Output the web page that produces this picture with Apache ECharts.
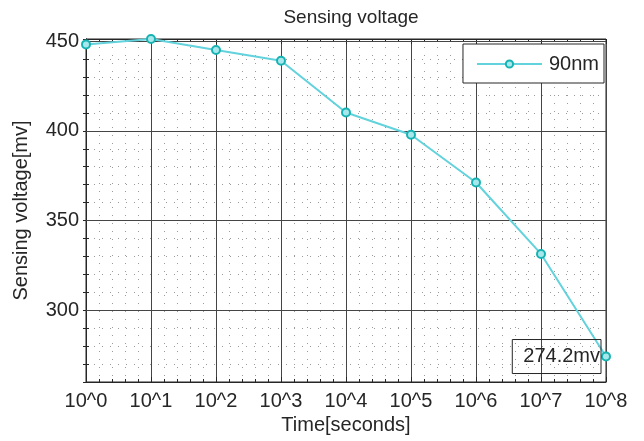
<!DOCTYPE html>
<html>
<head>
<meta charset="utf-8">
<script src="https://cdn.jsdelivr.net/npm/echarts@6/dist/echarts.min.js"></script>
<style>
  html, body { margin: 0; padding: 0; background: #fff; }
  #chart { width: 644px; height: 441px; }
</style>
</head>
<body>
<div id="chart"></div>
<script>
// exponent of the time (10^n seconds)
const exponents = [0, 1, 2, 3, 4, 5, 6, 7, 8];
const xTickLabels = ["10^0", "10^1", "10^2", "10^3", "10^4", "10^5", "10^6", "10^7", "10^8"];
// sensing voltage [mv]
const voltage90nm = [448.2, 451.2, 445.1, 439.1, 410.2, 397.8, 371.2, 331.4, 274.2];
const yMajorTicks = [300, 350, 400, 450];
const seriesName = "90nm";
const lastLabel = "274.2mv";

const textColor = "#262626";
const font = "Liberation Sans, Arial, sans-serif";

const points = exponents.map((e, i) => [e, voltage90nm[i]]);
const last = points.length - 1;
const seriesData = points.map((p, i) => {
  if (i !== last) return p;
  return {
    value: p,
    label: {
      show: true,
      position: "left",
      distance: 0,
      formatter: lastLabel,
      color: textColor,
      fontFamily: font,
      fontSize: 20,
      borderColor: textColor,
      borderWidth: 1,
      padding: [7, 1, 7, 11]
    }
  };
});

const chart = echarts.init(document.getElementById("chart"), null, { renderer: "canvas" });
chart.setOption({
  animation: false,
  title: {
    text: "Sensing voltage",
    left: 346,
    textAlign: "center",
    top: 3,
    textStyle: { color: textColor, fontFamily: font, fontSize: 19, fontWeight: "normal" }
  },
  legend: {
    data: [seriesName],
    right: 40,
    top: 44,
    orient: "vertical",
    backgroundColor: "#fff",
    borderColor: textColor,
    borderWidth: 1,
    borderRadius: 0,
    padding: [10, 5, 9, 13],
    itemWidth: 65,
    itemHeight: 9,
    itemGap: 0,
    textStyle: { color: textColor, fontFamily: font, fontSize: 20, padding: [0, 0, 0, 2] }
  },
  grid: {
    left: 86,
    right: 38,
    top: 39,
    bottom: 59,
    show: true,
    borderColor: textColor,
    borderWidth: 1,
    backgroundColor: "#fff"
  },
  xAxis: [{
    type: "value",
    min: 0,
    max: 8,
    interval: 1,
    name: "Time[seconds]",
    nameLocation: "middle",
    nameGap: 33,
    nameTextStyle: { color: textColor, fontFamily: font, fontSize: 20 },
    axisLine: { show: true, lineStyle: { color: textColor } },
    axisTick: { show: true, inside: true, length: 5, lineStyle: { color: textColor } },
    minorTick: { show: true, splitNumber: 5, length: 3, lineStyle: { color: textColor } },
    axisLabel: {
      color: textColor, fontFamily: font, fontSize: 20, margin: 9,
      formatter: v => xTickLabels[exponents.indexOf(v)] || ""
    },
    splitLine: { show: true, lineStyle: { color: "#454545", width: 1 } },
    minorSplitLine: { show: true, lineStyle: { color: "#9a9a9a", type: [1, 7], width: 1 } }
  }, {
    type: "value",
    position: "top",
    min: 0,
    max: 8,
    interval: 1,
    axisLine: { show: true, lineStyle: { color: textColor } },
    axisTick: { show: true, inside: true, length: 5, lineStyle: { color: textColor } },
    minorTick: { show: true, splitNumber: 5, length: 3, lineStyle: { color: textColor } },
    axisLabel: { show: false },
    splitLine: { show: false }
  }],
  yAxis: [{
    type: "value",
    min: 260,
    max: 451.2,
    interval: 10,
    name: "Sensing voltage[mv]",
    nameLocation: "middle",
    nameGap: 55,
    nameTextStyle: { color: textColor, fontFamily: font, fontSize: 20 },
    axisLine: { show: true, lineStyle: { color: textColor } },
    axisTick: { show: true, inside: true, length: 3, lineStyle: { color: textColor } },
    axisLabel: {
      color: textColor, fontFamily: font, fontSize: 20, margin: 7,
      formatter: v => (yMajorTicks.indexOf(v) >= 0 ? String(v) : "")
    },
    splitLine: { show: true, lineStyle: { color: "#9a9a9a", type: [1, 7], width: 1 } }
  }, {
    type: "value",
    position: "right",
    min: 260,
    max: 451.2,
    interval: 10,
    axisLine: { show: true, lineStyle: { color: textColor } },
    axisTick: { show: true, inside: true, length: 3, lineStyle: { color: textColor } },
    axisLabel: { show: false },
    splitLine: { show: false }
  }],
  series: [
    {
      // carries the solid major y grid lines
      type: "line",
      data: points,
      symbol: "none",
      silent: true,
      lineStyle: { opacity: 0 },
      z: 1,
      markLine: {
        silent: true,
        symbol: "none",
        label: { show: false },
        lineStyle: { color: "#454545", type: "solid", width: 1 },
        data: yMajorTicks.map(v => ({ yAxis: v }))
      }
    },
    {
      name: seriesName,
      type: "line",
      data: seriesData,
      clip: false,
      z: 5,
      symbol: "circle",
      symbolSize: 8,
      lineStyle: { color: "#62d2dc", width: 2 },
      itemStyle: { color: "#a8e8ec", borderColor: "#17b3b3", borderWidth: 2 }
    }
  ]
});
</script>
</body>
</html>
